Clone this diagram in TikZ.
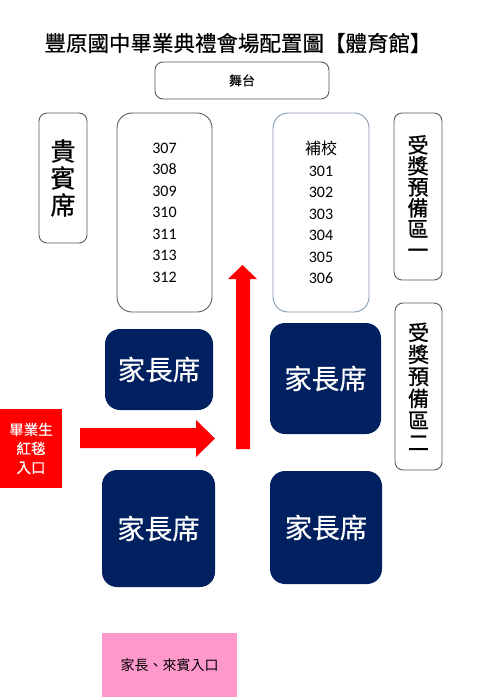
\documentclass[tikz,border=0pt]{standalone}
\usepackage{fontspec}
\setmainfont{Noto Sans CJK TC}
\newfontfamily\numfont{Carlito}
\newfontfamily\cjkbold[FakeBold=0.8]{Noto Sans CJK TC}
\newfontfamily\cjktitle[FakeBold=0.5]{Noto Sans CJK TC}
\newfontfamily\cjksemi[FakeBold=0.4]{Noto Sans CJK TC}
\definecolor{navy}{HTML}{002060}
\definecolor{pinkbox}{HTML}{FF99CC}
\definecolor{redbox}{HTML}{FF0000}
\definecolor{edgegray}{HTML}{595959}
\definecolor{edgeblue}{HTML}{8497B0}
\tikzset{
  outbox/.style={draw=edgegray, line width=0.9pt, rounded corners=8pt, inner sep=0pt, align=center},
  classbox/.style={outbox, rounded corners=15pt},
  parentbox/.style={fill=navy, rounded corners=15pt, inner sep=0pt, text=white, font=\cjksemi\fontsize{27.5}{29}\selectfont},
  redarrow/.style={fill=redbox, draw=none},
}
\begin{document}
\begin{tikzpicture}[x=1pt,y=-1pt]
\useasboundingbox (0,0) rectangle (485,700);
% title
\node (title) at (238,43) {\cjktitle\fontsize{21.5}{23}\selectfont 豐原國中畢業典禮會場配置圖【體育館】};
% stage
\node[outbox, minimum width=174pt, minimum height=37pt, font=\cjksemi\fontsize{13}{15}\selectfont] (stage) at (242,80.5) {舞台};
% VIP
\node[outbox, minimum width=48pt, minimum height=130pt, font=\cjkbold\fontsize{25}{27}\selectfont] (vip) at (63,178) {貴\\賓\\席};
% class boxes
\node[classbox, minimum width=95pt, minimum height=199pt, font=\numfont\fontsize{16}{21.5}\selectfont] (clsL) at (164.5,212.5) {307\\308\\309\\310\\311\\313\\312};
\node[classbox, draw=edgeblue, minimum width=96pt, minimum height=199pt, font=\fontsize{16}{21.5}\selectfont] (clsR) at (321,212.5) {補校\\{\numfont 301}\\{\numfont 302}\\{\numfont 303}\\{\numfont 304}\\{\numfont 305}\\{\numfont 306}};
% award areas
\node[outbox, minimum width=48pt, minimum height=167pt, font=\cjkbold\fontsize{21}{21}\selectfont] (award1) at (418,196.5) {受\\獎\\預\\備\\區\\一};
\node[outbox, minimum width=47pt, minimum height=167pt, font=\cjkbold\fontsize{21}{22}\selectfont] (award2) at (418.5,386.5) {受\\獎\\預\\備\\區\\二};
% parent seats
\node[parentbox, minimum width=108pt, minimum height=81pt] (pLU) at (159,369.5) {家長席};
\node[parentbox, minimum width=113pt, minimum height=117pt] (pLL) at (158.5,528.5) {家長席};
\node[parentbox, minimum width=111pt, minimum height=111pt] (pRU) at (325.5,378.5) {家長席};
\node[parentbox, minimum width=112pt, minimum height=113pt] (pRL) at (326,527.5) {家長席};
% entrances
\node[fill=redbox, minimum width=62pt, minimum height=79pt, inner sep=0pt, align=center, text=white, font=\cjksemi\fontsize{14.5}{19}\selectfont] (redin) at (31,448.5) {畢業生\\紅毯\\入口};
\node[fill=pinkbox, minimum width=135pt, minimum height=64pt, inner sep=0pt, font=\fontsize{14}{16}\selectfont] (pinkin) at (169.5,665) {家長、來賓入口};
% arrows
\fill[redarrow] (80,428) -- (196,428) -- (196,420) -- (215,438.5) -- (196,457) -- (196,448) -- (80,448) -- cycle;
\fill[redarrow] (236,449) -- (236,279) -- (228,279) -- (242.5,265) -- (257,279) -- (250,279) -- (250,449) -- cycle;
\end{tikzpicture}
\end{document}
